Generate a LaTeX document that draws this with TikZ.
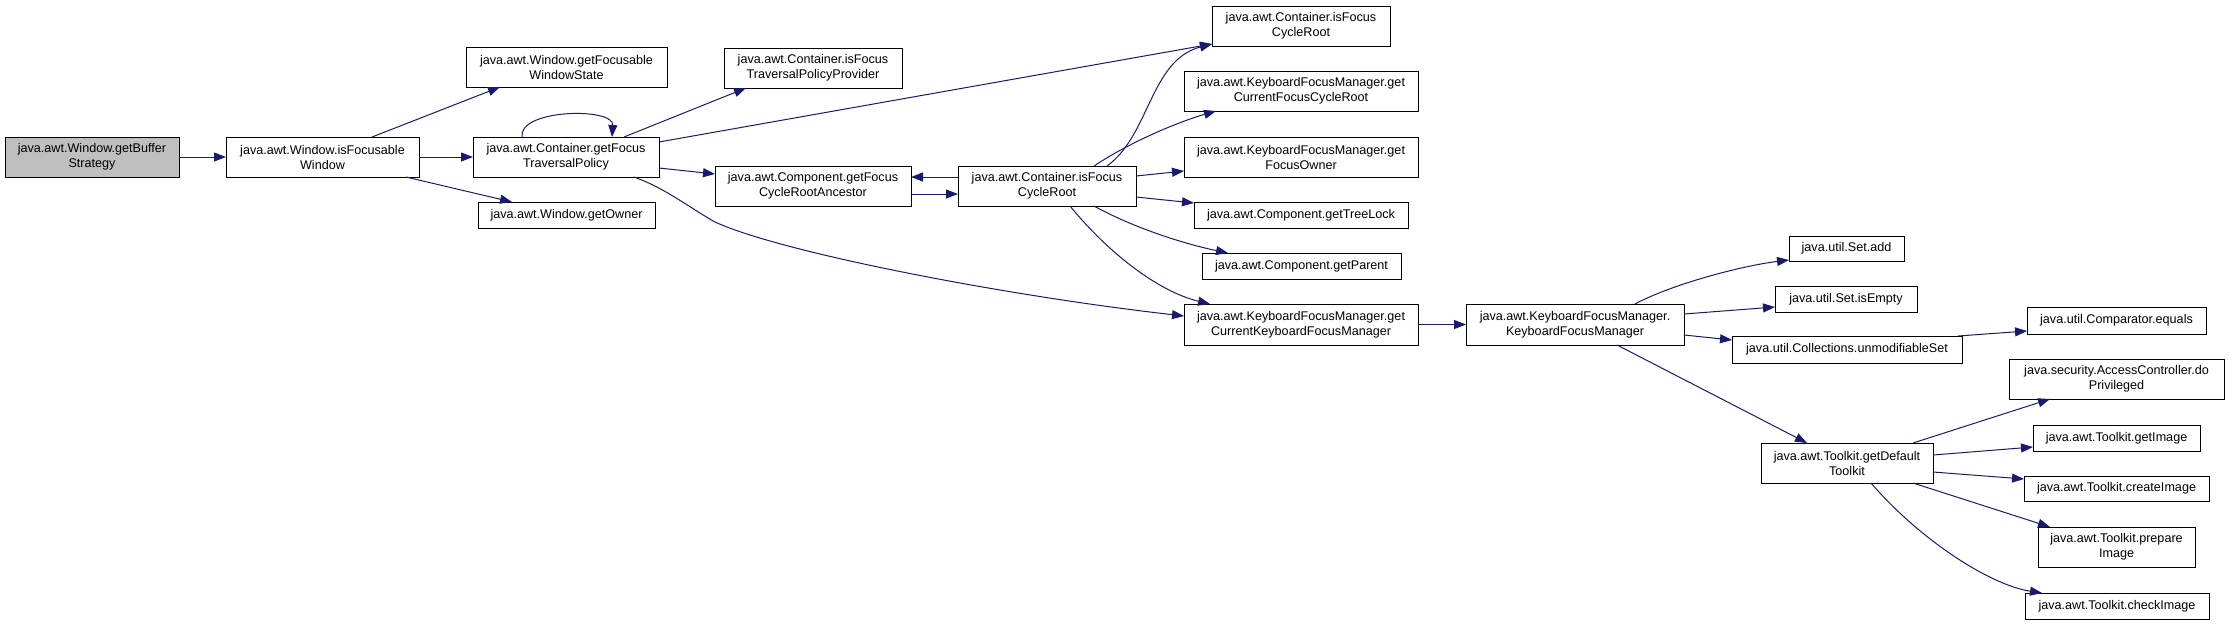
\documentclass[tikz,border=0pt]{standalone}
\usepackage{fontspec}
\setmainfont{Liberation Sans}
\usetikzlibrary{arrows.meta,calc}
\definecolor{mblue}{HTML}{191970}
\definecolor{rootgray}{HTML}{BFBFBF}
\tikzset{
  box/.style={draw=black, fill=white, line width=1pt, inner sep=0pt, outer sep=0pt,
    align=center, anchor=north west, font=\fontsize{12.6}{15}\selectfont},
  call/.style={draw=mblue, line width=1pt, -{Triangle[length=12pt,width=9pt]}, mblue}
}
\newcommand{\nbox}[7][]{\node[box,#1,minimum width=#5pt,minimum height=#6pt] (#2) at (#3,#4) {#7};}
\begin{document}
\begin{tikzpicture}[x=1pt,y=-1pt]
\useasboundingbox (0,0) rectangle (2229,625);
\nbox[fill=rootgray]{A}{5}{137}{174}{40}{java.awt.Window.getBuffer\\Strategy}
\nbox{B}{226}{137}{193}{40}{java.awt.Window.isFocusable\\Window}
\nbox{C}{466}{47}{201}{40}{java.awt.Window.getFocusable\\WindowState}
\nbox{D}{473}{137}{186}{40}{java.awt.Container.getFocus\\TraversalPolicy}
\nbox{E}{478}{202}{177}{26}{java.awt.Window.getOwner}
\nbox{F}{724}{48}{178}{40}{java.awt.Container.isFocus\\TraversalPolicyProvider}
\nbox{G}{1212}{6}{178}{40}{java.awt.Container.isFocus\\CycleRoot}
\nbox{H}{1184}{71}{234}{40}{java.awt.KeyboardFocusManager.get\\CurrentFocusCycleRoot}
\nbox{I}{1184}{137}{234}{40}{java.awt.KeyboardFocusManager.get\\FocusOwner}
\nbox{J}{715}{166}{196}{40}{java.awt.Component.getFocus\\CycleRootAncestor}
\nbox{K}{958}{166}{178}{40}{java.awt.Container.isFocus\\CycleRoot}
\nbox{L}{1194}{202}{214}{26}{java.awt.Component.getTreeLock}
\nbox{M}{1202}{253}{199}{26}{java.awt.Component.getParent}
\nbox{N}{1184}{304}{234}{41}{java.awt.KeyboardFocusManager.get\\CurrentKeyboardFocusManager}
\nbox{O}{1466}{304}{218}{41}{java.awt.KeyboardFocusManager.\\KeyboardFocusManager}
\nbox{P}{1789}{236}{115}{25}{java.util.Set.add}
\nbox{Q}{1775}{286}{142}{26}{java.util.Set.isEmpty}
\nbox{R}{1732}{336}{230}{27}{java.util.Collections.unmodifiableSet}
\nbox{S}{2027}{307}{179}{27}{java.util.Comparator.equals}
\nbox{T}{2009}{359}{215}{40}{java.security.AccessController.do\\Privileged}
\nbox{U}{2033}{425}{167}{26}{java.awt.Toolkit.getImage}
\nbox{V}{1761}{443}{172}{40}{java.awt.Toolkit.getDefault\\Toolkit}
\nbox{W}{2024}{476}{185}{25}{java.awt.Toolkit.createImage}
\nbox{X}{2038}{527}{157}{40}{java.awt.Toolkit.prepare\\Image}
\nbox{Y}{2025}{593}{184}{26}{java.awt.Toolkit.checkImage}
% edges
\draw[call] (A.east) -- (B.west);
\draw[call] ($(B.north west)+(146,0)$) -- ($(C.south west)+(34,0)$);
\draw[call] (B.east) -- (D.west);
\draw[call] ($(B.south west)+(180,0)$) -- ($(E.north west)+(34,0)$);
\draw[call] ($(D.north west)+(49,0)$) .. controls ($(D.north west)+(45,-28)$) and ($(D.north west)+(141,-30)$) .. ($(D.north west)+(139,0)$);
\draw[call] ($(D.north west)+(151,0)$) -- ($(F.south west)+(22,0)$);
\draw[call] ($(D.north east)+(0,5)$) -- ($(G.south west)+(0,-2)$);
\draw[call] ($(D.north east)+(0,31)$) -- ($(J.north west)+(0,8)$);
\draw[call] ($(D.south west)+(161,0)$) .. controls (665,188) and (690,208) .. (715,222)
   .. controls (780,252) and (1000,295) .. ($(N.north west)+(0,12)$);
\draw[call] ($(J.south east)+(0,-12)$) -- ($(K.south west)+(0,-12)$);
\draw[call] ($(K.north west)+(0,11)$) -- ($(J.north east)+(0,11)$);
\draw[call] ($(K.north west)+(149,0)$) .. controls (1150,135) and (1150,60) .. ($(G.south west)+(0,-2)$);
\draw[call] ($(K.north west)+(136,0)$) .. controls (1130,142) and (1178,122) .. ($(H.south west)+(32,0)$);
\draw[call] ($(K.north east)+(0,10)$) -- ($(I.north west)+(0,34)$);
\draw[call] ($(K.north east)+(0,31)$) -- ($(L.north west)+(0,1)$);
\draw[call] ($(K.south west)+(136,0)$) .. controls (1130,226) and (1180,243) .. ($(M.north west)+(26,0)$);
\draw[call] ($(K.south west)+(112,0)$) .. controls (1110,255) and (1160,292) .. ($(N.north west)+(26,0)$);
\draw[call] (N.east) -- (O.west);
\draw[call] ($(O.north west)+(169,0)$) .. controls (1670,285) and (1740,266) .. ($(P.south west)+(0,-1)$);
\draw[call] ($(O.north east)+(0,10)$) -- ($(Q.north west)+(0,21)$);
\draw[call] ($(O.north east)+(0,31)$) -- ($(R.north west)+(0,4)$);
\draw[call] ($(O.south west)+(151,0)$) -- ($(V.north west)+(46,0)$);
\draw[call] ($(R.north east)+(-4,0)$) -- ($(S.north west)+(0,24)$);
\draw[call] ($(V.north west)+(152,0)$) -- ($(T.south west)+(41,0)$);
\draw[call] ($(V.north east)+(0,12)$) -- ($(U.north west)+(0,22)$);
\draw[call] ($(V.north east)+(0,29)$) -- ($(W.north west)+(0,3)$);
\draw[call] ($(V.south west)+(152,0)$) -- ($(X.north west)+(12,0)$);
\draw[call] ($(V.south west)+(110,0)$) .. controls (1920,540) and (1990,585) .. ($(Y.north west)+(17,0)$);
\end{tikzpicture}
\end{document}
